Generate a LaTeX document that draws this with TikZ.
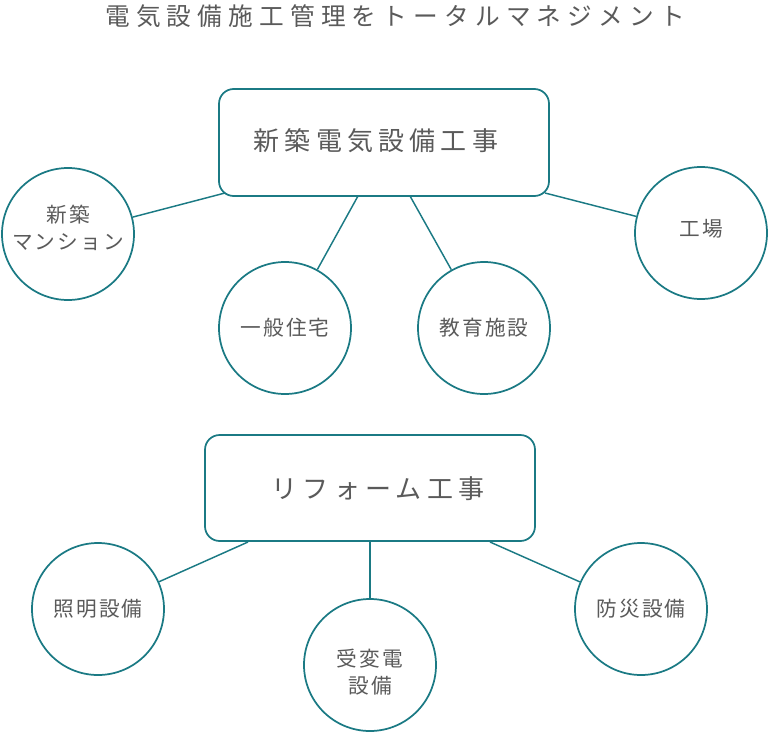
\documentclass[tikz,border=0pt]{standalone}
\usepackage{fontspec}
\newfontfamily\cjktitle[LetterSpace=25]{Noto Sans CJK JP}
\newfontfamily\cjkbox[LetterSpace=20]{Noto Sans CJK JP}
\newfontfamily\cjkcirc[LetterSpace=10]{Noto Sans CJK JP}
\definecolor{teal1}{HTML}{1B7A84}
\definecolor{txt}{HTML}{5A5A5A}
\tikzset{
  bigbox/.style={draw=teal1, line width=1.3pt, rounded corners=11pt, fill=white},
  boxtext/.style={text=txt, font=\cjkbox\fontsize{19.5}{22}\selectfont},
  circ/.style={draw=teal1, line width=1.3pt, circle, minimum size=99pt, inner sep=0pt},
  circtext/.style={text=txt, align=center, inner sep=0pt, font=\cjkcirc\fontsize{15.5}{20}\selectfont},
  conn/.style={draw=teal1, line width=1.1pt}
}
\begin{document}
\begin{tikzpicture}[x=0.75pt,y=-0.75pt]
\useasboundingbox (0,0) rectangle (770,732);
% title
\node[text=txt, font=\cjktitle\fontsize{18.5}{22}\selectfont] (title) at (395,16) {電気設備施工管理をトータルマネジメント};
% box 1
\draw[bigbox] (219,89) rectangle (549,196);
\node[boxtext] (b1) at (376,141) {新築電気設備工事};
\node[circ] (c1) at (68,234) {};
\node[circtext] (t1) at (68,228) {新築\\マンション};
\node[circ] (c2) at (285,328) {};
\node[circtext] (t2) at (c2) {一般住宅};
\node[circ] (c3) at (484,328) {};
\node[circtext] (t3) at (c3) {教育施設};
\node[circ] (c4) at (701,233) {};
\node[circtext] (t4) at (701,229) {工場};
\coordinate (p1) at (225,193);
\coordinate (p2) at (358,196);
\coordinate (p3) at (410,196);
\coordinate (p4) at (545,193);
\draw[conn] (p1) -- (c1);
\draw[conn] (p2) -- (c2);
\draw[conn] (p3) -- (c3);
\draw[conn] (p4) -- (c4);
% box 2
\draw[bigbox] (205,435) rectangle (535,541);
\node[boxtext] (b2) at (378,489) {リフォーム工事};
\node[circ] (d1) at (98,609) {};
\node[circtext] (u1) at (d1) {照明設備};
\node[circ] (d2) at (370,665) {};
\node[circtext] (u2) at (370,672) {受変電\\設備};
\node[circ] (d3) at (641,609) {};
\node[circtext] (u3) at (d3) {防災設備};
\coordinate (q1) at (248,542);
\coordinate (q2) at (370,542);
\coordinate (q3) at (490,542);
\draw[conn] (q1) -- (d1);
\draw[conn] (q2) -- (d2);
\draw[conn] (q3) -- (d3);
\end{tikzpicture}
\end{document}
